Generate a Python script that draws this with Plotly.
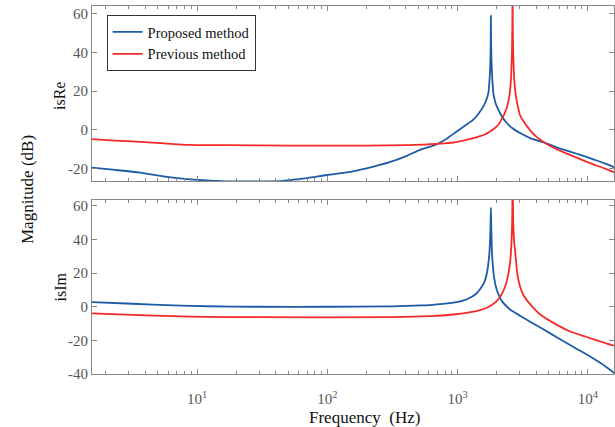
import plotly.graph_objects as go

# ---- data ----
# Top panel (isRe)
re_prop_f = [1.56, 2.35, 3.65, 5.68, 8.84, 12.5, 17.9, 30, 43, 51.7, 70, 99, 150, 200, 300, 407, 514,
             600, 691, 800, 984, 1150, 1321, 1450, 1575, 1660, 1721, 1765, 1785, 1795, 1800,
             1806, 1818, 1840, 1879, 1950, 2052, 2200, 2383, 2650, 3013, 3600, 4289, 4685,
             5800, 7290, 9000, 11000, 13500, 16140]
re_prop_db = [-19.6, -20.8, -22.2, -24.3, -25.7, -26.3, -26.7, -26.7, -26.6, -26.0, -25.0, -23.4, -21.8, -20.0, -16.8, -13.5, -10.4,
              -9.0, -7.5, -5.2, -0.9, 2.3, 5.2, 8.4, 12.1, 15.4, 19.1, 27.8, 36, 46, 59,
              46, 36, 27.8, 19.1, 14.0, 10.4, 6.6, 3.5, 0.6, -1.7, -4.3, -6.0, -6.8,
              -9.2, -11.3, -13.3, -15.3, -17.4, -19.6]

re_prev_f = [1.56, 2.35, 3.65, 5.68, 8.84, 17.9, 51.7, 99, 200, 407, 550, 691, 800, 927, 1100, 1321, 1486,
             1650, 1774, 1900, 2050, 2179, 2300, 2420, 2500, 2560, 2610, 2630, 2640, 2650, 2670,
             2720, 2780, 2880, 3013, 3194, 3389, 3594, 3707, 4000, 4289, 4685, 5800, 7290, 9000,
             11000, 13500, 16140]
re_prev_db = [-4.8, -5.6, -6.25, -7.1, -7.8, -8.0, -8.2, -8.2, -8.2, -8.0, -7.7, -7.3, -7.0, -6.6, -5.6, -4.3, -3.3,
              -2.2, -0.9, 0.5, 2.6, 5.5, 8.6, 13.0, 18.0, 25.0, 40, 55, 80, 55, 40,
              26, 19, 13, 7.5, 4.5, 2.0, -0.2, -1.3, -3.4, -5.0, -6.8, -10.2, -13.0, -15.6,
              -17.9, -20.1, -22.2]

# Bottom panel (isIm)
im_prop_f = [1.56, 3.2, 6.58, 12, 28.7, 100, 303, 514, 614, 800, 927, 1100, 1245, 1380, 1486,
             1600, 1672, 1751, 1785, 1800, 1815, 1837, 1903, 2000, 2115, 2179, 2350, 2524,
             3013, 3194, 3594, 4685, 5800, 7290, 9000, 11000, 13500, 16140]
im_prop_db = [2.8, 1.8, 0.8, 0.3, 0.0, 0.0, 0.2, 0.8, 1.0, 1.8, 2.4, 3.6, 5.4, 7.6, 10.4,
              14.5, 19.5, 31.5, 45, 59, 45, 31.5, 17.5, 9.8, 5.4, 3.5, 0.6, -1.6,
              -5.3, -6.5, -8.9, -14.0, -18.3, -22.8, -26.8, -30.8, -35.2, -39.8]

im_prev_f = [1.56, 3.2, 6.58, 12, 28.7, 303, 614, 927, 1200, 1486, 1750, 1995, 2120, 2243, 2350,
             2449, 2520, 2570, 2620, 2645, 2670, 2720, 2758, 2874, 3000, 3194, 3500, 3812,
             4289, 5430, 7290, 9800, 12500, 16140]
im_prev_db = [-3.9, -4.8, -5.6, -6.0, -6.2, -6.2, -5.6, -4.6, -3.5, -2.0, 0.2, 3.4, 5.9, 9.4, 13.5,
              19.5, 25.5, 33.5, 50, 80, 50, 38, 33.5, 19.5, 12.5, 7.0, 2.6, -0.6,
              -4.5, -9.6, -14.7, -18.0, -20.7, -23.3]

x_tickvals = [10, 100, 1000, 10000]
x_ticktext = ["10<sup>1</sup>", "10<sup>2</sup>", "10<sup>3</sup>", "10<sup>4</sup>"]
y_tickvals_top = [-20, 0, 20, 40, 60]
y_ticktext_top = ["-20", "0", "20", "40", "60"]
y_tickvals_bot = [-40, -20, 0, 20, 40, 60]
y_ticktext_bot = ["-40", "-20", "0", "20", "40", "60"]
legend_names = ["Proposed method", "Previous method"]

BLUE = "#1c5ba6"
RED = "#f42b2b"
AX = "#8a8a8a"
FONT = "Liberation Serif"

minor_vals = [m * 10 ** d for d in range(0, 5) for m in range(2, 10)]

LINE = dict(width=1.8, shape="spline", smoothing=0.6)

fig = go.Figure()
fig.add_trace(go.Scatter(x=re_prop_f, y=re_prop_db, mode="lines", name=legend_names[0],
                         line=dict(LINE, color=BLUE), xaxis="x", yaxis="y"))
fig.add_trace(go.Scatter(x=re_prev_f, y=re_prev_db, mode="lines", name=legend_names[1],
                         line=dict(LINE, color=RED), xaxis="x", yaxis="y"))
fig.add_trace(go.Scatter(x=im_prop_f, y=im_prop_db, mode="lines", showlegend=False,
                         line=dict(LINE, color=BLUE), xaxis="x2", yaxis="y2"))
fig.add_trace(go.Scatter(x=im_prev_f, y=im_prev_db, mode="lines", showlegend=False,
                         line=dict(LINE, color=RED), xaxis="x2", yaxis="y2"))

common_x = dict(type="log", range=[0.194, 4.2], showline=True, linecolor=AX, linewidth=1,
                mirror="ticks", ticks="inside", ticklen=5, tickcolor=AX,
                tickvals=x_tickvals, ticktext=x_ticktext, showgrid=False, zeroline=False,
                minor=dict(ticks="inside", ticklen=3, tickcolor=AX, tickmode="array",
                           tickvals=minor_vals, showgrid=False),
                tickfont=dict(family=FONT, size=15, color="#555555"))
common_y = dict(showline=True, linecolor=AX, linewidth=1, mirror="ticks", ticks="inside",
                ticklen=5, tickcolor=AX, showgrid=False, zeroline=False,
                tickfont=dict(family=FONT, size=15, color="#555555"))

fig.update_layout(
    width=615, height=427,
    margin=dict(l=92, r=1, t=6, b=53),
    paper_bgcolor="white", plot_bgcolor="white",
    xaxis=dict(common_x, anchor="y", showticklabels=False),
    yaxis=dict(common_y, domain=[0.5245, 1], range=[-26.5, 64], anchor="x",
               tickvals=y_tickvals_top, ticktext=y_ticktext_top),
    xaxis2=dict(common_x, anchor="y2", showticklabels=True, ticklabelstandoff=11),
    yaxis2=dict(common_y, domain=[0, 0.4728], range=[-40, 63.5], anchor="x2",
                tickvals=y_tickvals_bot, ticktext=y_ticktext_bot),
    legend=dict(x=0.028, y=0.9755, xanchor="left", yanchor="top",
                bgcolor="white", bordercolor="#333333", borderwidth=1,
                font=dict(family=FONT, size=14.5, color="#111111"),
                tracegroupgap=0),
    showlegend=True,
    annotations=[
        dict(text="isRe", x=-0.0613, y=(374 - 96) / 368, xref="paper", yref="paper",
             textangle=-90, showarrow=False, xanchor="center", yanchor="middle",
             font=dict(family=FONT, size=16, color="#111111")),
        dict(text="isIm", x=-0.0613, y=(374 - 287.5) / 368, xref="paper", yref="paper",
             textangle=-90, showarrow=False, xanchor="center", yanchor="middle",
             font=dict(family=FONT, size=16, color="#111111")),
        dict(text="Magnitude (dB)", x=-0.1245, y=0.5, xref="paper", yref="paper",
             textangle=-90, showarrow=False, xanchor="center", yanchor="middle",
             font=dict(family=FONT, size=17, color="#111111")),
        dict(text="Frequency\u00a0 (Hz)", x=(364 - 92) / 522, y=(374 - 417) / 368,
             xref="paper", yref="paper", showarrow=False, xanchor="center", yanchor="middle",
             font=dict(family=FONT, size=17, color="#111111")),
    ],
)

fig.write_html("out.html")
